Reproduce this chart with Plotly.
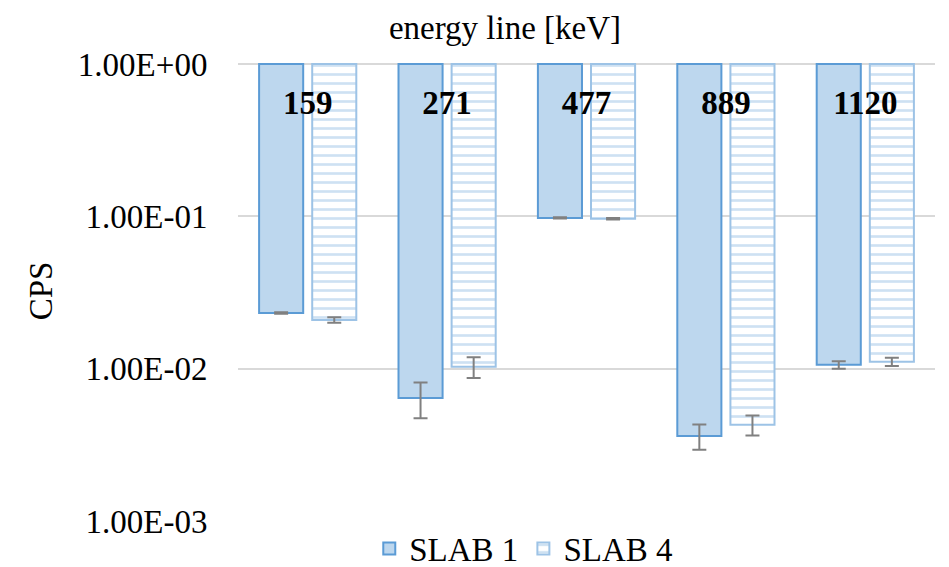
import plotly.graph_objects as go

categories = ["159", "271", "477", "889", "1120"]
slab1 = [0.0232, 0.00643, 0.0977, 0.00362, 0.0106]
slab1_err = [0.0003, 0.0017, 0.0010, 0.00068, 0.0006]
slab4 = [0.0209, 0.0103, 0.0965, 0.00428, 0.0111]
slab4_err = [0.0009, 0.0016, 0.0010, 0.00064, 0.0007]
tick_vals = [1, 0.1, 0.01, 0.001]
tick_text = ["1.00E+00", "1.00E-01", "1.00E-02", "1.00E-03"]
top_value = 1.0

FONT = "Liberation Serif"

fig = go.Figure()
fig.add_trace(go.Bar(
    name="SLAB 1", x=categories,
    y=[v - top_value for v in slab1], base=[top_value] * len(slab1),
    marker=dict(color="#BDD7EE", line=dict(color="#5B9BD5", width=2)),
    error_y=dict(type="data", array=slab1_err, color="#808080", thickness=2, width=7),
))
fig.add_trace(go.Bar(
    name="SLAB 4", x=categories,
    y=[v - top_value for v in slab4], base=[top_value] * len(slab4),
    marker=dict(color="white", line=dict(color="#9DC3E6", width=2),
                pattern=dict(shape="-", fgcolor="#9DC3E6", bgcolor="white", size=9, solidity=0.3)),
    error_y=dict(type="data", array=slab4_err, color="#808080", thickness=2, width=7),
))

fig.update_layout(
    width=949, height=567,
    margin=dict(l=238, r=14, t=61, b=46, autoexpand=False),
    paper_bgcolor="white", plot_bgcolor="white",
    barmode="group", bargap=0.238, bargroupgap=0.17,
    font=dict(family=FONT, size=33, color="#000000"),
    title=dict(text="energy line [keV]", font=dict(family=FONT, size=33, color="#000000"),
               x=0.383, xref="paper", xanchor="center", y=1 - 27 / 567, yref="container",
               yanchor="middle"),
    showlegend=True,
    legend=dict(orientation="h", x=0.41, xanchor="center", y=-0.06, yanchor="middle",
                font=dict(family=FONT, size=33, color="#000000"), itemwidth=30, traceorder="normal"),
    xaxis=dict(
        type="category", side="bottom", anchor="free", position=1.0, automargin=False,
        ticks="", showline=False, showgrid=False,
        tickfont=dict(family=FONT, size=33, color="#000000", weight="bold"),
        ticklabelstandoff=19,
    ),
    yaxis=dict(
        type="log", range=[-3, 0.02], tickvals=tick_vals, ticktext=tick_text, automargin=False,
        showgrid=True, gridcolor="#D9D9D9", gridwidth=1.5,
        zeroline=False, showline=False,
        ticks="outside", ticklen=23, tickcolor="rgba(0,0,0,0)",
        tickfont=dict(family=FONT, size=33, color="#000000"),
        title=dict(text="CPS", font=dict(family=FONT, size=33), standoff=15),
    ),
)

fig.write_html("out.html", config={"displayModeBar": False},
               post_script="document.body.style.margin='0';")
